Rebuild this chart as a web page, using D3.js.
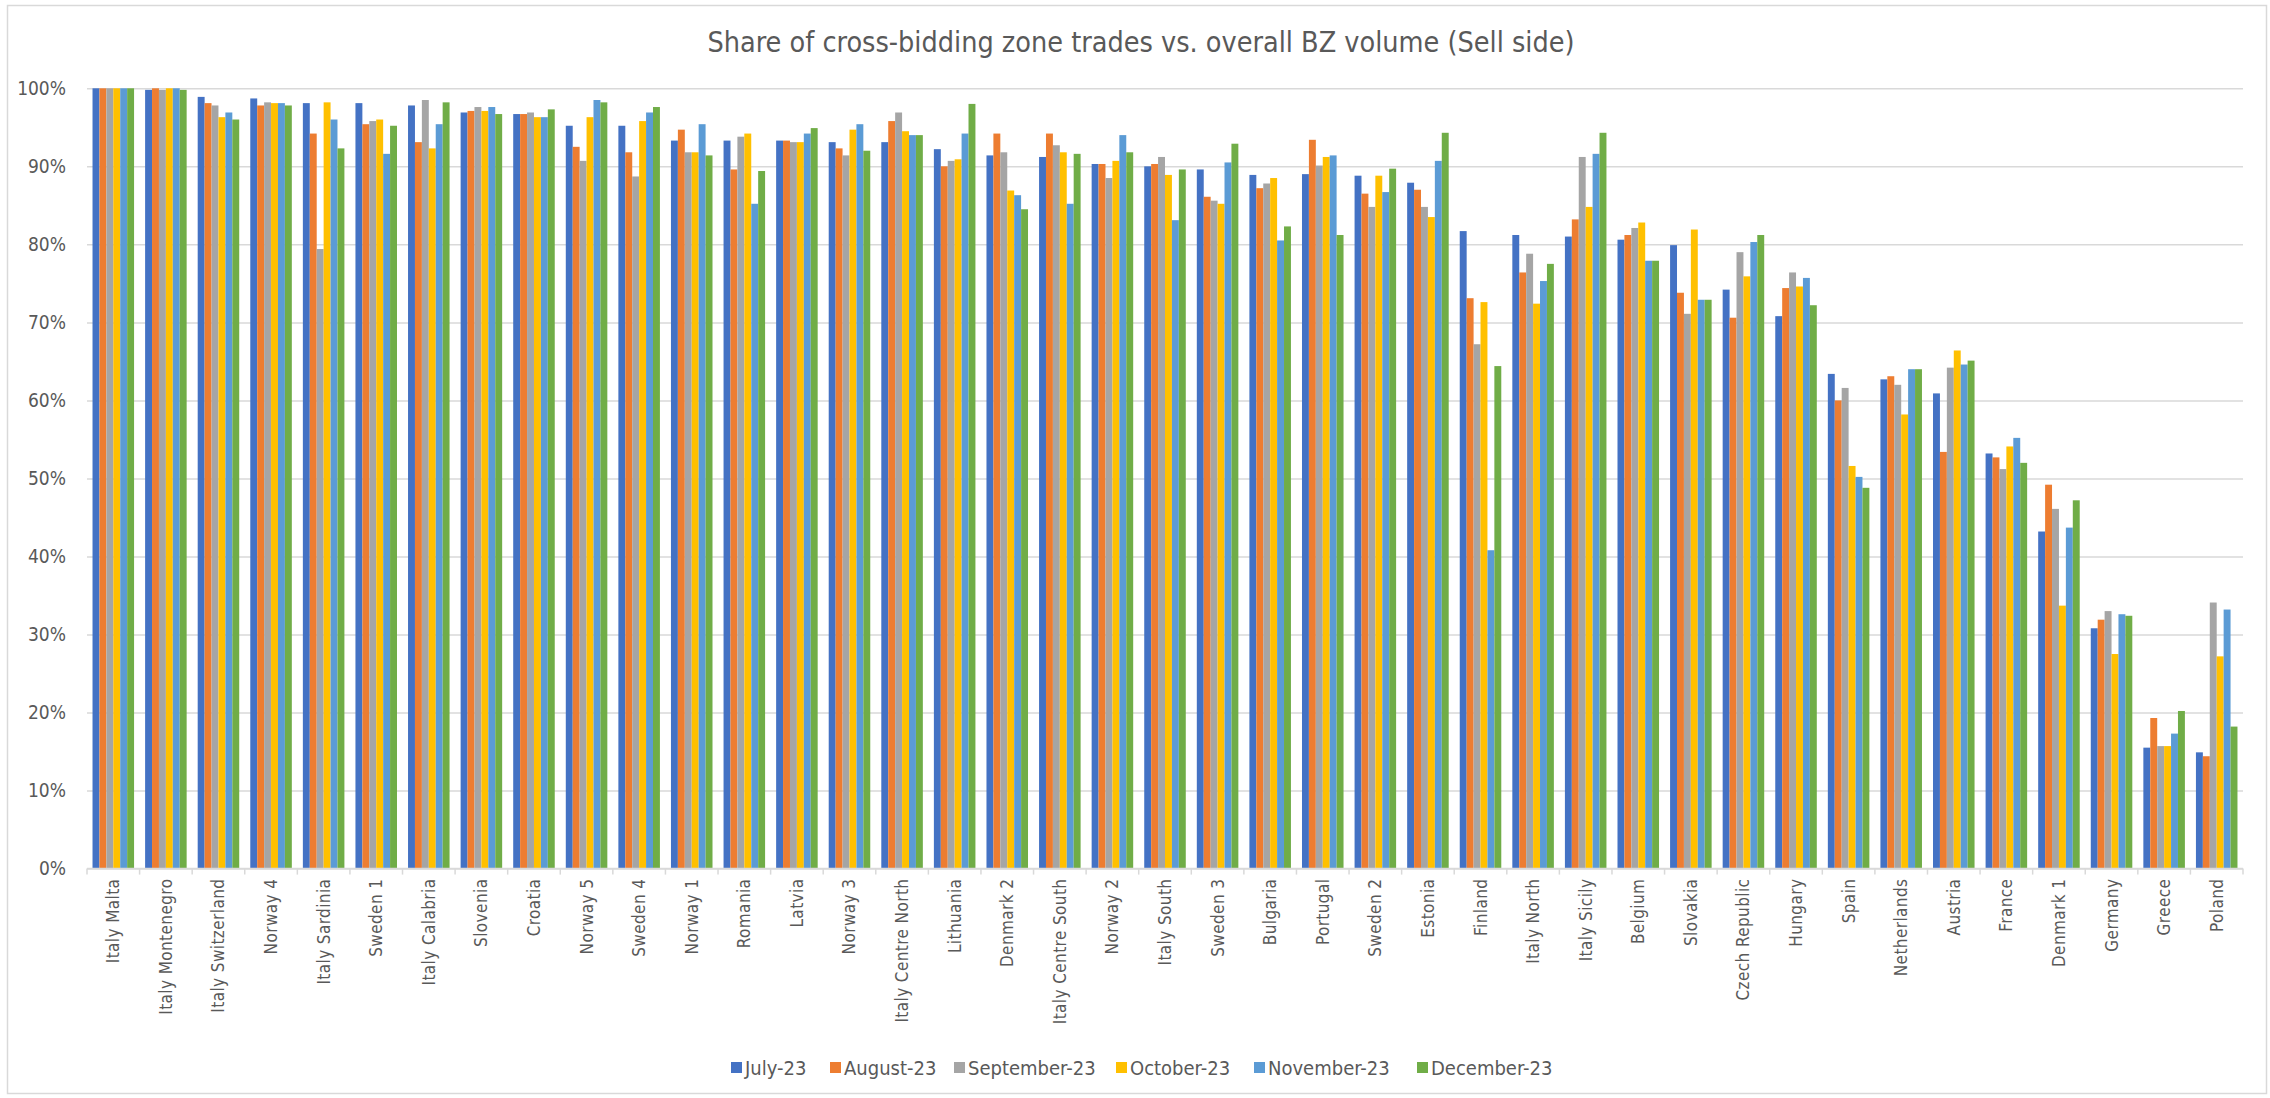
<!DOCTYPE html>
<html>
<head>
<meta charset="utf-8">
<script src="https://cdn.jsdelivr.net/npm/d3@7"></script>
<style>
  body { margin: 0; background: #fff; }
  svg text { font-family: "Liberation Sans Narrow", "DejaVu Sans Condensed", "Noto Sans", sans-serif; fill: #595959; }
</style>
</head>
<body>
<div class="chart"></div>
<script>
// bidding zones, in the order shown
var zones = ["Italy Malta", "Italy Montenegro", "Italy Switzerland", "Norway 4", "Italy Sardinia", "Sweden 1",
  "Italy Calabria", "Slovenia", "Croatia", "Norway 5", "Sweden 4", "Norway 1", "Romania", "Latvia", "Norway 3",
  "Italy Centre North", "Lithuania", "Denmark 2", "Italy Centre South", "Norway 2", "Italy South", "Sweden 3",
  "Bulgaria", "Portugal", "Sweden 2", "Estonia", "Finland", "Italy North", "Italy Sicily", "Belgium", "Slovakia",
  "Czech Republic", "Hungary", "Spain", "Netherlands", "Austria", "France", "Denmark 1", "Germany", "Greece", "Poland"];

var months = ["July-23", "August-23", "September-23", "October-23", "November-23", "December-23"];

// share in %
var july = [100, 99.8, 98.9, 98.7, 98.1, 98.1, 97.8, 96.9, 96.7, 95.2, 95.2, 93.3, 93.3, 93.3, 93.1, 93.1, 92.2, 91.4, 91.2, 90.3, 90.0, 89.6, 88.9, 89.0, 88.8, 87.9, 81.7, 81.2, 81.0, 80.6, 79.9, 74.2, 70.8, 63.4, 62.7, 60.9, 53.2, 43.2, 30.8, 15.5, 14.9];
var august = [100, 100, 98.1, 97.8, 94.2, 95.4, 93.1, 97.1, 96.7, 92.5, 91.8, 94.7, 89.6, 93.3, 92.3, 95.8, 90.0, 94.2, 94.2, 90.3, 90.3, 86.1, 87.2, 93.4, 86.5, 87.0, 73.1, 76.4, 83.2, 81.2, 73.8, 70.6, 74.4, 60.0, 63.1, 53.4, 52.7, 49.2, 31.9, 19.3, 14.4];
var september = [100, 99.8, 97.8, 98.2, 79.4, 95.8, 98.5, 97.6, 96.9, 90.7, 88.7, 91.8, 93.8, 93.1, 91.4, 96.9, 90.7, 91.8, 92.7, 88.5, 91.2, 85.6, 87.8, 90.1, 84.8, 84.8, 67.2, 78.8, 91.2, 82.1, 71.1, 79.0, 76.4, 61.6, 62.0, 64.2, 51.2, 46.1, 33.0, 15.7, 34.1];
var october = [100, 100, 96.3, 98.1, 98.2, 96.0, 92.3, 97.1, 96.3, 96.3, 95.8, 91.8, 94.2, 93.1, 94.7, 94.5, 90.9, 86.9, 91.8, 90.7, 88.9, 85.2, 88.5, 91.2, 88.8, 83.5, 72.6, 72.4, 84.8, 82.8, 81.9, 75.9, 74.6, 51.6, 58.2, 66.4, 54.1, 33.7, 27.5, 15.7, 27.2];
var november = [100, 100, 96.9, 98.1, 96.0, 91.6, 95.4, 97.6, 96.3, 98.5, 96.9, 95.4, 85.2, 94.2, 95.4, 94.0, 94.2, 86.3, 85.2, 94.0, 83.1, 90.5, 80.5, 91.4, 86.7, 90.7, 40.8, 75.3, 91.6, 77.9, 72.9, 80.3, 75.7, 50.2, 64.0, 64.6, 55.2, 43.7, 32.6, 17.3, 33.2];
var december = [100, 99.8, 96.0, 97.8, 92.3, 95.2, 98.2, 96.7, 97.3, 98.2, 97.6, 91.4, 89.4, 94.9, 92.0, 94.0, 98.0, 84.5, 91.6, 91.8, 89.6, 92.9, 82.3, 81.2, 89.7, 94.3, 64.4, 77.5, 94.3, 77.9, 72.9, 81.2, 72.2, 48.8, 64.0, 65.1, 52.0, 47.2, 32.4, 20.2, 18.2];

var yTicks = [0, 10, 20, 30, 40, 50, 60, 70, 80, 90, 100];
var colors = ["#4472C4", "#ED7D31", "#A5A5A5", "#FFC000", "#5B9BD5", "#70AD47"];

var series = [july, august, september, october, november, december];

var W = 2270, H = 1098;
var plotL = 87, plotR = 2243, plotT = 88.3, plotB = 868.6;

var svg = d3.select("div.chart")
            .append("svg")
            .attr("width", W)
            .attr("height", H);

// chart frame
svg.append("rect")
   .attr("x", 7.5).attr("y", 5.5)
   .attr("width", 2259).attr("height", 1088)
   .attr("fill", "#fff")
   .attr("stroke", "#d9d9d9")
   .attr("stroke-width", 1.5);

var x0 = d3.scaleBand()
           .domain(zones)
           .range([plotL, plotR])
           .paddingInner(0.21)
           .paddingOuter(0.105);

var x1 = d3.scaleBand()
           .domain(d3.range(months.length))
           .range([0, x0.bandwidth()]);

var y = d3.scaleLinear()
          .domain([0, 100])
          .range([plotB, plotT]);

//gridlines + y labels
var yAxis = d3.axisLeft(y)
              .tickValues(yTicks)
              .tickSize(-(plotR - plotL))
              .tickPadding(21)
              .tickFormat(function(d){ return d + "%"; });

var gy = svg.append("g")
            .attr("transform", "translate(" + plotL + ",0)")
            .call(yAxis);
gy.select(".domain").remove();
gy.selectAll(".tick line").attr("stroke", "#d9d9d9").attr("stroke-width", 1.5);
gy.selectAll(".tick text")
  .style("font-size", "19px")
  .attr("fill", "#595959");

// bars
var groups = svg.append("g")
                .selectAll("g")
                .data(zones)
                .enter()
                .append("g")
                .attr("transform", function(d){ return "translate(" + x0(d) + ",0)"; });

groups.selectAll("rect")
      .data(function(d, i){
        return series.map(function(s, k){ return {k: k, v: s[i]}; });
      })
      .enter()
      .append("rect")
      .attr("x", function(d){ return x1(d.k); })
      .attr("width", x1.bandwidth())
      .attr("y", function(d){ return y(d.v); })
      .attr("height", function(d){ return y(0) - y(d.v); })
      .attr("fill", function(d){ return colors[d.k]; });

// x axis line + tick marks between categories
var step = x0.step();
var gx = svg.append("g");
gx.append("line")
  .attr("x1", plotL).attr("x2", plotR)
  .attr("y1", plotB).attr("y2", plotB)
  .attr("stroke", "#d9d9d9").attr("stroke-width", 1.5);
gx.selectAll(".tk")
  .data(d3.range(zones.length + 1))
  .enter()
  .append("line")
  .attr("x1", function(i){ return plotL + i * step; })
  .attr("x2", function(i){ return plotL + i * step; })
  .attr("y1", plotB).attr("y2", plotB + 6)
  .attr("stroke", "#d9d9d9").attr("stroke-width", 1.5);

gx.selectAll(".lab")
  .data(zones)
  .enter()
  .append("text")
  .attr("transform", function(d){
    return "translate(" + (x0(d) + x0.bandwidth() / 2 + 6) + "," + (plotB + 10) + ") rotate(-90)";
  })
  .attr("text-anchor", "end")
  .style("font-size", "17px")
  .style("letter-spacing", "0.4px")
  .text(function(d){ return d; });

// title
svg.append("text")
   .attr("x", 1141).attr("y", 52)
   .attr("text-anchor", "middle")
   .style("font-size", "28.5px")
   .text("Share of cross-bidding zone trades vs. overall BZ volume (Sell side)");

// legend
var legendX = [731, 830, 954, 1116, 1254, 1417];
var leg = svg.append("g")
             .selectAll("g")
             .data(months)
             .enter()
             .append("g")
             .attr("transform", function(d, i){ return "translate(" + legendX[i] + ",1068)"; });
leg.append("rect")
   .attr("x", 0).attr("y", -6)
   .attr("width", 11).attr("height", 11)
   .attr("fill", function(d, i){ return colors[i]; });
leg.append("text")
   .attr("x", 14).attr("y", 7)
   .style("font-size", "20px")
   .text(function(d){ return d; });
</script>
</body>
</html>
